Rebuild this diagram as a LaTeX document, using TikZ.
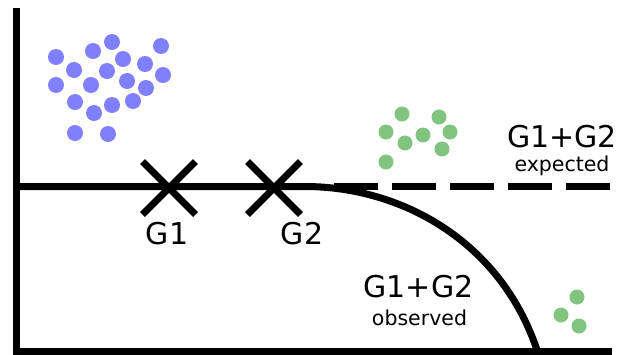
\documentclass[tikz,border=0pt]{standalone}
\usepackage{fontspec}
\setmainfont{DejaVu Sans}
\usetikzlibrary{shapes.misc}
\definecolor{dotblue}{HTML}{8080FF}
\definecolor{dotgreen}{HTML}{80C480}
\tikzset{
  axisline/.style={line width=7pt, line join=miter},
  curveline/.style={line width=7pt},
  dashline/.style={line width=7pt, dash pattern=on 44pt off 14pt},
  xmark/.style={cross out, draw, line width=7pt, minimum size=46pt, inner sep=0pt},
  big/.style={inner sep=0pt, anchor=base, font=\fontsize{30}{36}\selectfont},
  small/.style={inner sep=0pt, anchor=base, font=\fontsize{20.5}{24}\selectfont},
  bdot/.style={fill=dotblue, draw=none},
  gdot/.style={fill=dotgreen, draw=none}
}
\begin{document}
\begin{tikzpicture}[x=1pt, y=-1pt]
\useasboundingbox (0,0) rectangle (620,354);
% axes
\coordinate (top) at (16.5,8);
\coordinate (corner) at (16.5,351);
\coordinate (right) at (612,351);
\draw[axisline] (top) -- (corner) -- (right);
% observed curve
\coordinate (s) at (16.5,186.5);
\coordinate (bend) at (305,186.5);
\coordinate (e) at (537,350);
\draw[curveline] (s) -- (bend) .. controls (400,186.5) and (500,240) .. (e);
% expected dashed
\coordinate (d0) at (334,186.5);
\coordinate (d1) at (612,186.5);
\draw[dashline] (d0) -- (d1);
% marks
\node[xmark] (x1) at (169,188) {};
\node[xmark] (x2) at (274,188) {};
% labels
\node[big] (lg1) at (167,244) {G1};
\node[big] (lg2) at (302,244) {G2};
\node[big] (le) at (562,147) {G1+G2};
\node[small] (lex) at (562,171) {expected};
\node[big] (lo) at (418.5,297) {G1+G2};
\node[small] (lob) at (419.5,325) {observed};
% blue dots
\foreach \p in {(56,57),(93,51),(112,42),(161,46),(74,70),(123,59),(107,71),(145,64),(163,75),(56,85),(91,85),(127,81),(146,88),(75,102),(112,105),(133,101),(94,113),(75,133),(108,134)}
  \fill[bdot] \p circle (8);
% green dots (expected)
\foreach \p in {(402,114),(439,117),(386,132),(423,135),(450,132),(405,143),(442,149),(386,162)}
  \fill[gdot] \p circle (7.5);
% green dots (observed)
\foreach \p in {(577,297),(561,315),(579,326)}
  \fill[gdot] \p circle (7.5);
\end{tikzpicture}
\end{document}
